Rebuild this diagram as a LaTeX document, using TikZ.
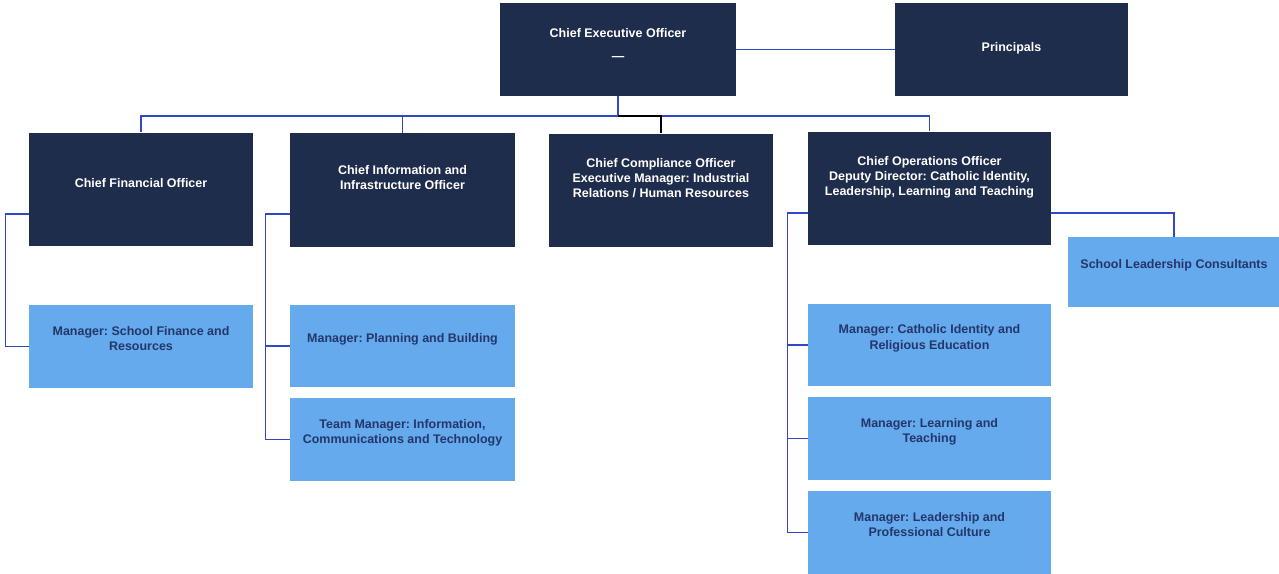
\documentclass[tikz,border=0pt]{standalone}
\usepackage{fontspec}
\setmainfont{Liberation Sans}
\usetikzlibrary{positioning}

\definecolor{navy}{HTML}{1F2D4C}
\definecolor{sky}{HTML}{64AAEC}
\definecolor{ink}{HTML}{24366A}
\definecolor{wire}{HTML}{3148C4}

\tikzset{
  lead/.style={rectangle, fill=navy, text=white, font=\frenchspacing\fontsize{7.1}{8.6}\selectfont\bfseries,
    align=center, minimum width=4.48cm, minimum height=2.28cm, inner sep=2pt, text depth=0.5cm},
  unit/.style={rectangle, fill=sky, text=ink, font=\frenchspacing\fontsize{7.1}{8.6}\selectfont\bfseries,
    align=center, minimum width=4.48cm, minimum height=1.66cm, inner sep=2pt, text depth=0.32cm},
  link/.style={draw=wire, line width=0.7pt}
}

\begin{document}
\begin{tikzpicture}[x=0.02cm, y=-0.02cm, node distance=0.2cm]
    \useasboundingbox (0,0) rectangle (1279,574);

    % Top row
    \node[lead, minimum width=4.72cm, minimum height=1.86cm, text depth=0.2cm] (ceo) at (618,49.5) {Chief Executive Officer\\[5pt] ---};
    \node[lead, minimum width=4.66cm, minimum height=1.86cm, text depth=0.1cm] (prin) at (1011.5,49.5) {Principals};

    % Second row
    \node[lead, text depth=0.25cm] (cfo) at (141,189.5) {Chief Financial Officer};
    \node[lead, minimum width=4.5cm] (ciio) at (402.5,190) {Chief Information and\\Infrastructure Officer};
    \node[lead] (cco) at (661,190.5) {Chief Compliance Officer\\Executive Manager: Industrial\\Relations / Human Resources};
    \node[lead, minimum width=4.86cm] (coo) at (929.5,188.5) {Chief Operations Officer\\Deputy Director: Catholic Identity,\\Leadership, Learning and Teaching};

    % Finance
    \node[unit] (msfr) at (141,346.5) {Manager: School Finance and\\Resources};

    % Information and infrastructure
    \node[unit, minimum width=4.5cm] (mpb) at (402.5,346) {Manager: Planning and Building};
    \node[unit, minimum width=4.5cm] (tmict) [below=of mpb] {Team Manager: Information,\\Communications and Technology};

    % Operations
    \node[unit, minimum width=4.86cm] (mcire) at (929.5,345) {Manager: Catholic Identity and\\Religious Education};
    \node[unit, minimum width=4.86cm] (mlt) [below=of mcire] {Manager: Learning and\\Teaching};
    \node[unit, minimum width=4.86cm] (mlpc) [below=of mlt] {Manager: Leadership and\\Professional Culture};
    \node[unit, minimum width=4.24cm, minimum height=1.4cm] (slc) at (1174,272) {School Leadership Consultants};

    % Connectors
    \coordinate (bus) at (618,116);
    \draw[link] (ceo.east) -- (prin.west);
    \draw[link] (ceo.south) -- (bus);
    \draw[link] (bus) -| (cfo.north);
    \draw[link] (bus) -| (ciio.north);
    \draw[link] (bus) -| (coo.north);
    \draw[line width=0.7pt] (bus) -| (cco.north);

    \draw[link] (cfo.west) ++(0,24.5) -- ++(-23,0) |- (msfr.west);
    \draw[link] (ciio.west) ++(0,24) -- ++(-24,0) |- (tmict.west);
    \draw[link] (mpb.west) -- ++(-24,0);
    \draw[link] (coo.west) ++(0,24.5) -- ++(-20,0) |- (mlpc.west);
    \draw[link] (mcire.west) -- ++(-20,0);
    \draw[link] (mlt.west) -- ++(-20,0);
    \draw[link] (coo.east) ++(0,24.5) -| (slc.north);
\end{tikzpicture}
\end{document}
